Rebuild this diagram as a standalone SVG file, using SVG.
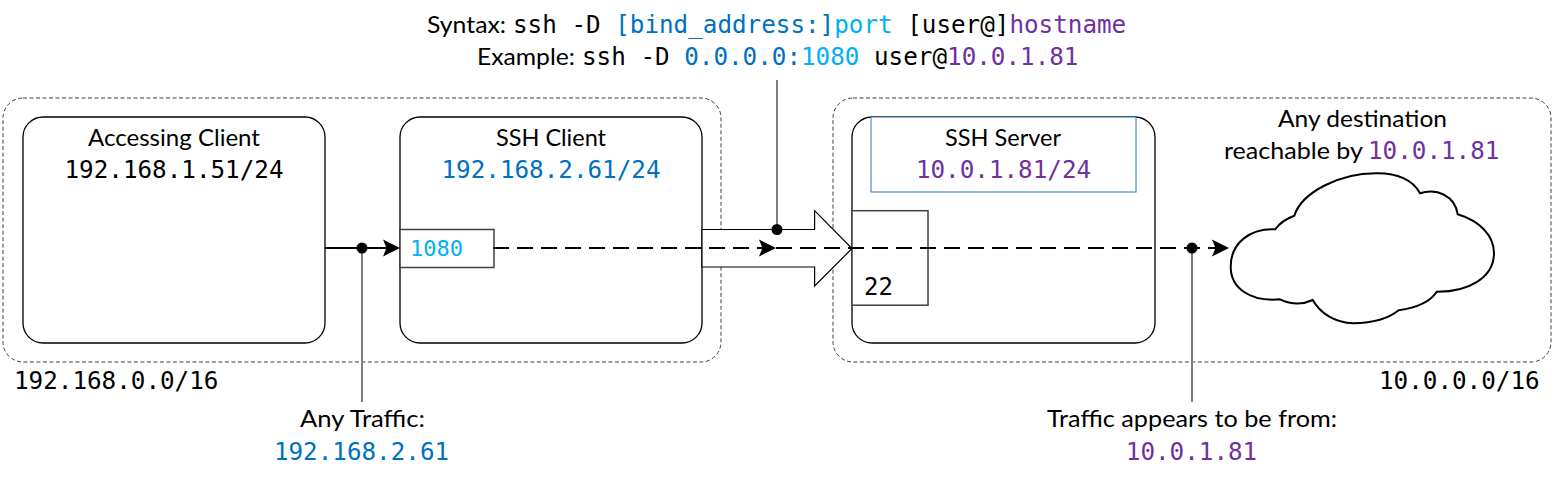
<svg xmlns="http://www.w3.org/2000/svg" width="1554" height="482" viewBox="0 0 1554 482">
<style>
.s{font-family:"Lato","Liberation Sans",sans-serif;font-size:24px;fill:#000}
.m{font-family:"DejaVu Sans Mono","Liberation Mono",monospace;font-size:24.25px;fill:#000}
.c{text-anchor:middle}
.blue{fill:#0070c0}.cyan{fill:#00b0f0}.purple{fill:#7030a0}
.zone{fill:#fff;stroke:#000;stroke-width:1;stroke-dasharray:4 2.5;opacity:.75}
.box{fill:#fff;stroke:#000;stroke-width:1.3}
.port{fill:#fff;stroke:#404040;stroke-width:1.5}
.lead{fill:none;stroke:#7f7f7f;stroke-width:2}
.wire{fill:none;stroke:#000;stroke-width:2.200}
.dash{stroke-dasharray:16 8}
</style>
<defs>
<path id="head" d="M-17 -8.500L0 0L-17 8.500L-13.500 0Z" fill="#000"/>
<circle id="dot" r="5.500" fill="#000"/>
</defs>
<rect width="1554" height="482" fill="#fff"/>
<g id="network-left">
<rect class="zone" x="3" y="98" width="718" height="264" rx="20"/>
<text class="m" x="14" y="389">192.168.0.0/16</text>
</g>
<g id="network-right">
<rect class="zone" x="833" y="98" width="718" height="264" rx="20"/>
<text class="m" x="1379" y="389">10.0.0.0/16</text>
</g>
<g id="accessing-client">
<rect class="box" x="23" y="117" width="302" height="226" rx="20"/>
<text class="s" x="88" y="146" textLength="172" lengthAdjust="spacingAndGlyphs">Accessing Client</text>
<text class="m c" x="174" y="178">192.168.1.51/24</text>
</g>
<g id="ssh-client">
<rect class="box" x="400" y="117" width="302" height="226" rx="20"/>
<text class="s" x="496" y="146" textLength="110" lengthAdjust="spacingAndGlyphs">SSH Client</text>
<text class="m c blue" x="551" y="178">192.168.2.61/24</text>
<rect class="port" x="400" y="229.500" width="94" height="38"/>
<text class="m cyan" x="410" y="256" style="font-size:22px">1080</text>
</g>
<g id="ssh-server">
<rect class="box" x="852" y="117" width="303" height="226" rx="20"/>
<rect x="871" y="117" width="265" height="75" fill="#fff" stroke="#2e75b6" stroke-width="1"/>
<text class="s" x="945" y="146" textLength="116" lengthAdjust="spacingAndGlyphs">SSH Server</text>
<text class="m c purple" x="1003.500" y="178">10.0.1.81/24</text>
<rect class="port" x="852" y="210.700" width="76" height="94.500"/>
<text class="m" x="864" y="295" style="font-size:24px">22</text>
</g>
<g id="tunnel">
<path d="M702 229.500H814.600V210.700L852 248.500L814.600 286V267H702Z" fill="#fff" stroke="#000" stroke-width="1.200"/>
</g>
<g id="cloud">
<path d="M1275.300 229.300C1281 221 1288 218 1294.300 215.700C1302 192 1340 173 1376.700 173.300C1397 173 1413 180 1420 193.300C1437 188 1455 196 1457.700 214.300C1480 221 1494 236 1494 253C1494 278 1468 292 1436.700 291.700C1430 302 1415 308 1398.700 310.300C1388 319 1370 323 1353.300 323.300C1335 323 1320 313 1312.700 300C1302 305 1290 304 1280 299.300C1250 302 1230.700 288 1230.700 266.700C1230.700 243 1250 228 1275.300 229.300Z" fill="#fff" stroke="#000" stroke-width="2"/>
<text class="s" x="1278" y="127" textLength="169" lengthAdjust="spacingAndGlyphs">Any destination</text>
<text class="s" x="1224" y="159" textLength="139" lengthAdjust="spacingAndGlyphs">reachable by</text>
<text class="m purple" x="1368" y="159">10.0.1.81</text>
</g>
<g id="connectors">
<path class="lead" d="M777 80V229"/>
<path class="lead" d="M362 248V402"/>
<path class="lead" d="M1192 248V402"/>
<path class="wire" d="M325 248H387"/>
<path class="wire dash" d="M493 248H772"/>
<path class="wire dash" d="M776 248H1216"/>
<use href="#head" x="400" y="248"/>
<use href="#head" x="776" y="248"/>
<use href="#head" x="1229" y="248"/>
<use href="#dot" x="362" y="248"/>
<use href="#dot" x="777" y="229.500"/>
<use href="#dot" x="1192" y="248"/>
</g>
<g id="command-label">
<text class="s" x="427" y="33" textLength="79" lengthAdjust="spacingAndGlyphs">Syntax:</text>
<text class="m" x="513" y="33">ssh -D <tspan class="blue">[bind_address:]</tspan><tspan class="cyan">port</tspan> [user@]<tspan class="purple">hostname</tspan></text>
<text class="s" x="477" y="65" textLength="98" lengthAdjust="spacingAndGlyphs">Example:</text>
<text class="m" x="582" y="65">ssh -D <tspan class="blue">0.0.0.0:</tspan><tspan class="cyan">1080</tspan> user@<tspan class="purple">10.0.1.81</tspan></text>
</g>
<g id="any-traffic-label">
<text class="s" x="300" y="427" textLength="125" lengthAdjust="spacingAndGlyphs">Any Traffic:</text>
<text class="m c blue" x="361.500" y="460">192.168.2.61</text>
</g>
<g id="appears-label">
<text class="s" x="1047" y="427" textLength="290" lengthAdjust="spacingAndGlyphs">Traffic appears to be from:</text>
<text class="m c purple" x="1191.500" y="460">10.0.1.81</text>
</g>
</svg>
